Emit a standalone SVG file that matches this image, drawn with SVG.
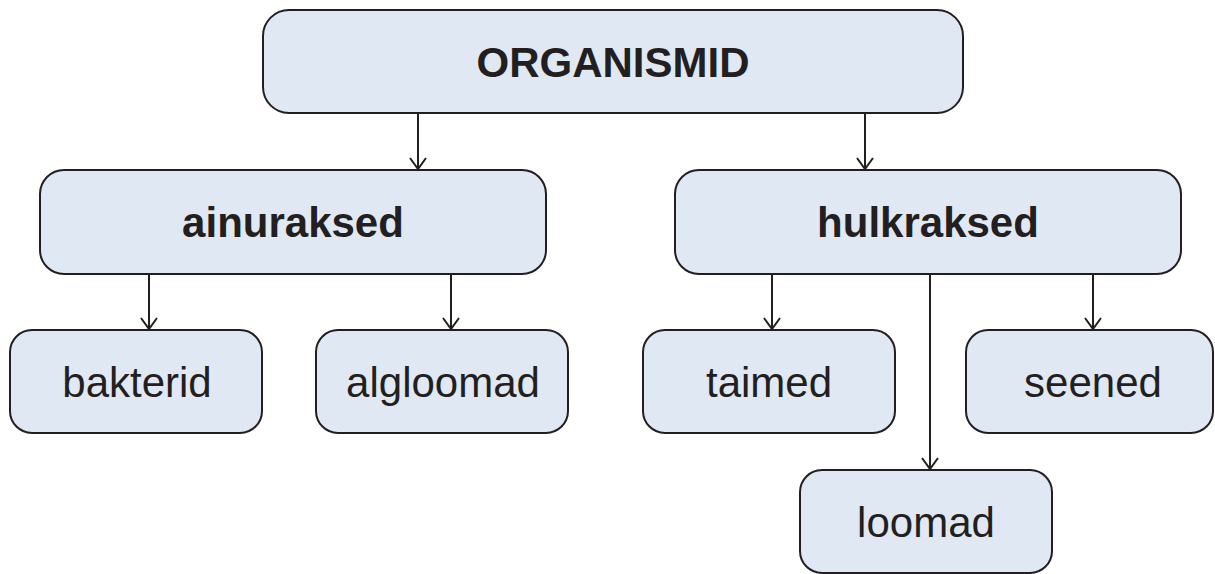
<svg xmlns="http://www.w3.org/2000/svg" width="1215" height="574" viewBox="0 0 1215 574">
<style>
.box{fill:#e0e8f4;stroke:#231f20;stroke-width:2}
.t{font-family:"Liberation Sans",Arial,sans-serif;font-size:42px;fill:#231f20;text-anchor:middle}
.b{font-weight:bold}
.c{stroke:#231f20;stroke-width:2;fill:none}
</style>
<defs>
<marker id="arr" viewBox="0 0 20 20" refX="18" refY="10" markerWidth="20" markerHeight="20" markerUnits="userSpaceOnUse" orient="auto">
<path d="M7,2 L18,10 L7,18" fill="none" stroke="#231f20" stroke-width="2"/>
</marker>
</defs>
<rect width="1215" height="574" fill="#ffffff"/>
<g id="connectors">
<path class="c" d="M418,114 V169" marker-end="url(#arr)"/>
<path class="c" d="M865,114 V169" marker-end="url(#arr)"/>
<path class="c" d="M149,274 V329" marker-end="url(#arr)"/>
<path class="c" d="M451,274 V329" marker-end="url(#arr)"/>
<path class="c" d="M772,274 V329" marker-end="url(#arr)"/>
<path class="c" d="M930,274 V469" marker-end="url(#arr)"/>
<path class="c" d="M1093,274 V329" marker-end="url(#arr)"/>
</g>
<g id="organismid">
<rect class="box" x="263" y="10" width="700" height="103" rx="26"/>
<text class="t b" x="613" y="77">ORGANISMID</text>
</g>
<g id="ainuraksed">
<rect class="box" x="40" y="170" width="506" height="104" rx="24"/>
<text class="t b" x="293" y="237">ainuraksed</text>
</g>
<g id="hulkraksed">
<rect class="box" x="675" y="170" width="506" height="104" rx="24"/>
<text class="t b" x="928" y="237">hulkraksed</text>
</g>
<g id="bakterid">
<rect class="box" x="10" y="330" width="252" height="103" rx="22"/>
<text class="t" x="137" y="397">bakterid</text>
</g>
<g id="algloomad">
<rect class="box" x="316" y="330" width="252" height="103" rx="22"/>
<text class="t" x="443" y="397">algloomad</text>
</g>
<g id="taimed">
<rect class="box" x="643" y="330" width="252" height="103" rx="22"/>
<text class="t" x="769" y="397">taimed</text>
</g>
<g id="seened">
<rect class="box" x="966" y="330" width="247" height="103" rx="22"/>
<text class="t" x="1093" y="397">seened</text>
</g>
<g id="loomad">
<rect class="box" x="800" y="470" width="252" height="103" rx="22"/>
<text class="t" x="926" y="537">loomad</text>
</g>
</svg>
